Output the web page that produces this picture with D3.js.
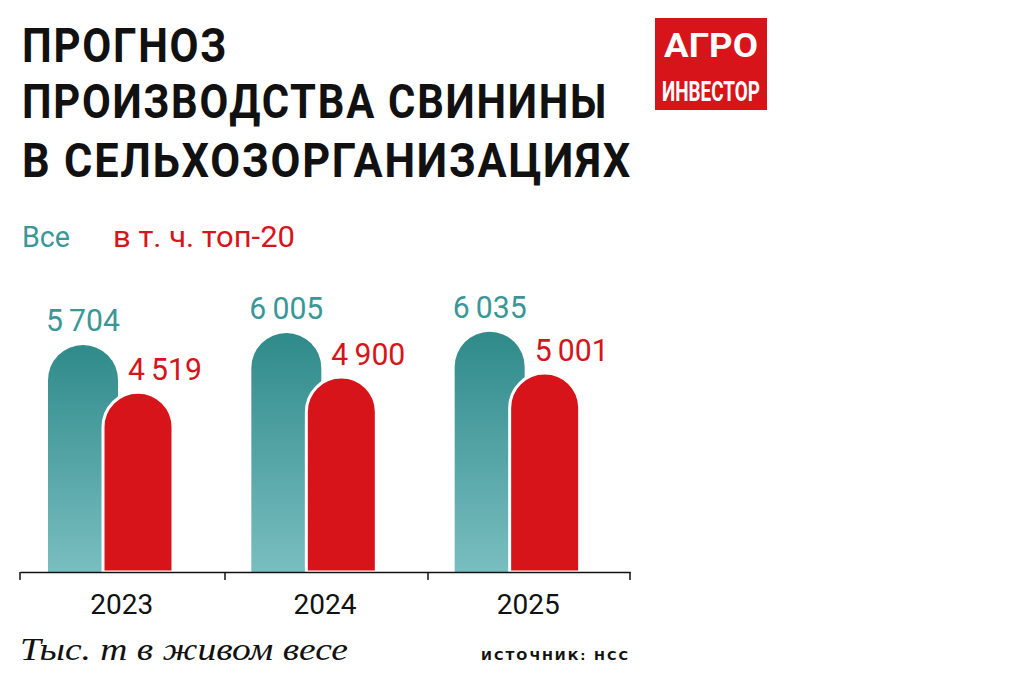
<!DOCTYPE html><html><head><meta charset="utf-8"><script src="https://cdn.jsdelivr.net/npm/d3@7"></script>
<style>body{margin:0;background:#fff}</style></head><body><svg id="c" width="1012" height="682"></svg>
<script>
const years=["2023","2024","2025"];
const allVals=[5704,6005,6035];
const topVals=[4519,4900,5001];
const titleLines=["ПРОГНОЗ","ПРОИЗВОДСТВА СВИНИНЫ","В СЕЛЬХОЗОРГАНИЗАЦИЯХ"];
const fmt=v=>d3.format(",")(v).replace(",","\u2009");
const svg=d3.select("#c");
const cond="'Liberation Sans Narrow','Roboto','Arial Narrow',sans-serif";
const teal="#3a9797",red="#d7141a";
const tl=[[62,206],[118,586],[177,610]];
titleLines.forEach((t,i)=>{svg.append("text").attr("x",22).attr("y",tl[i][0]).text(t)
 .attr("font-family",cond).attr("font-weight","bold").attr("font-size",48).attr("fill","#111").attr("letter-spacing",2)
 .attr("textLength",tl[i][1]).attr("lengthAdjust","spacingAndGlyphs");});
// logo
svg.append("rect").attr("x",655).attr("y",18).attr("width",112).attr("height",92).attr("fill",red);
svg.append("text").attr("x",711).attr("y",57).attr("text-anchor","middle").text("АГРО").attr("font-family",cond).attr("font-weight","bold").attr("font-size",34).attr("fill","#fff").attr("textLength",94).attr("lengthAdjust","spacingAndGlyphs");
svg.append("text").attr("x",711).attr("y",101).attr("text-anchor","middle").text("ИНВЕСТОР").attr("font-family",cond).attr("font-weight","bold").attr("font-size",28).attr("fill","#fff").attr("textLength",98).attr("lengthAdjust","spacingAndGlyphs");
// legend
svg.append("text").attr("x",22).attr("y",247).text("Все").attr("font-family",cond).attr("font-size",29).attr("fill",teal).attr("textLength",48).attr("lengthAdjust","spacingAndGlyphs");
svg.append("text").attr("x",113).attr("y",247).text("в т. ч. топ-20").attr("font-family",cond).attr("font-size",29).attr("fill",red).attr("textLength",182).attr("lengthAdjust","spacingAndGlyphs");
const base=572;
const y=d3.scaleLinear().domain([0,6000]).range([base,base-239*6000/6005]);
const x=d3.scaleBand().domain(years).range([20,630]);
const defs=svg.append("defs");
const g=defs.append("linearGradient").attr("id","tg").attr("x1",0).attr("x2",0).attr("y1",0).attr("y2",1);
g.append("stop").attr("offset",0).attr("stop-color","#2f8a8a");g.append("stop").attr("offset",1).attr("stop-color","#79bec0");
const bw=70,r=35;
function bar(x0,top,w){return `M${x0},${base}V${top+r}A${r},${r} 0 0 1 ${x0+w},${top+r}V${base}Z`;}
years.forEach((yr,i)=>{
 const x0=x(yr)+28;
 svg.append("path").attr("d",bar(x0,y(allVals[i]),bw)).attr("fill","url(#tg)");
 svg.append("path").attr("d",bar(x0+55,y(topVals[i]),bw)).attr("fill",red).attr("stroke","#fff").attr("stroke-width",3);
 svg.append("text").attr("x",x0+35).attr("y",y(allVals[i])-14).attr("text-anchor","middle").text(fmt(allVals[i])).attr("font-family",cond).attr("font-size",32).attr("fill",teal).attr("textLength",74).attr("lengthAdjust","spacingAndGlyphs");
 svg.append("text").attr("x",x0+117).attr("y",y(topVals[i])-12).attr("text-anchor","middle").text(fmt(topVals[i])).attr("font-family",cond).attr("font-size",32).attr("fill",red).attr("textLength",74).attr("lengthAdjust","spacingAndGlyphs");
});
const ax=svg.append("g").attr("transform",`translate(0,${base})`).call(d3.axisBottom(x).tickSize(0).tickPadding(22));
ax.select(".domain").attr("stroke","#111").attr("stroke-width",1.5);
ax.selectAll("text").attr("font-family",cond).attr("font-size",28).attr("fill","#111");
[20,225,428,630].forEach(v=>svg.append("line").attr("x1",v).attr("x2",v).attr("y1",base).attr("y2",base+8).attr("stroke","#111").attr("stroke-width",1.5));
svg.append("text").attr("x",20).attr("y",660).text("Тыс. т в живом весе").attr("font-family","'Liberation Serif',serif").attr("font-style","italic").attr("font-size",32).attr("fill","#111").attr("textLength",328).attr("lengthAdjust","spacingAndGlyphs");
svg.append("text").attr("x",630).attr("y",660).attr("text-anchor","end").text("ИСТОЧНИК: НСС").attr("font-family","'DejaVu Sans',sans-serif").attr("font-weight","bold").attr("font-size",13).attr("letter-spacing",2).attr("fill","#111");
</script></body></html>
